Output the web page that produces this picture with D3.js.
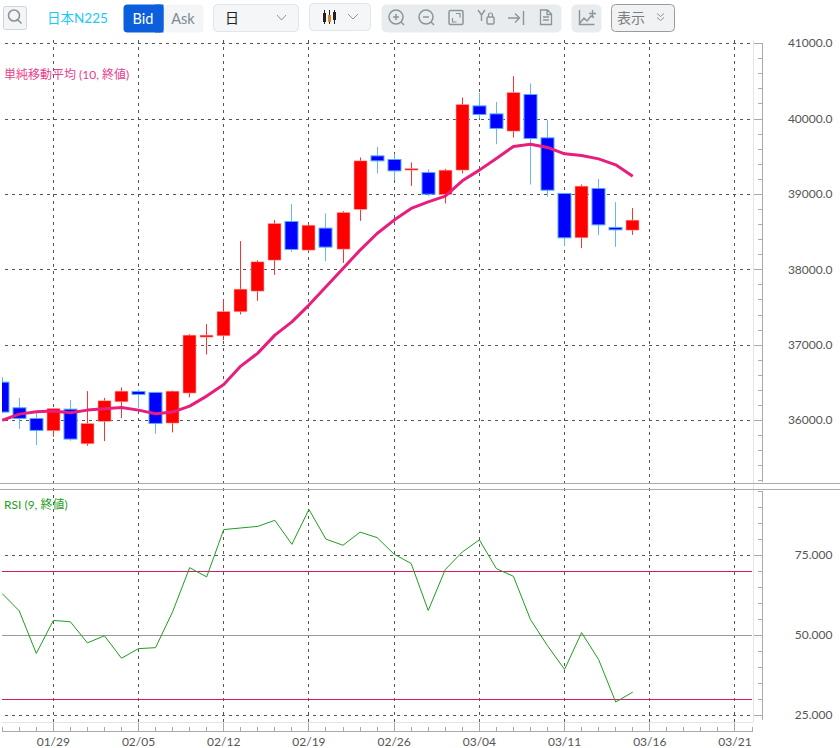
<!DOCTYPE html>
<html>
<head>
<meta charset="utf-8">
<script src="https://cdn.jsdelivr.net/npm/d3@7"></script>
<style>
  html, body { margin: 0; padding: 0; background: #fff; }
  text { font-family: Lato, "Noto Sans CJK JP", sans-serif; }
</style>
</head>
<body>
<div id="chart"></div>
<script>
// candle values, one entry per trading day
const opens  = [36510,36170,36029,35865,36152,35692,35989,36249,36387,36374,35967,36365,37107,37124,37443,37717,38128,38641,38261,38553,38274,38800,39511,39463,39322,39291,38999,39322,40174,40068,39839,40325,39750,39013,38424,39079,38562,38526];
const highs  = [36577,36302,36100,36166,36272,36391,36302,36440,36414,36378,36398,37147,37280,37598,38380,38128,38659,38871,38606,38747,38778,39490,39631,39534,39424,39335,39339,40285,40347,40227,40568,40471,39985,39017,39132,39206,38897,38818];
const lows   = [36100,35891,35675,35785,35732,35666,35728,36033,36166,35825,35844,36308,36878,37067,37408,37589,37933,38238,38248,38115,38092,38649,39278,39189,39113,38977,38880,39278,40007,39666,39755,39132,38968,38314,38287,38460,38305,38464];
const closes = [36113,36029,35870,36162,35755,35963,36263,36391,36347,35963,36391,37134,37134,37448,37744,38106,38615,38270,38592,38301,38761,39445,39445,39312,39344,39003,39322,40193,40060,39875,40352,39742,39056,38424,39110,38596,38530,38659];
const sma10  = [36003,36086,36117,36126,36103,36139,36156,36175,36139,36090,36113,36192,36325,36480,36723,36895,37134,37310,37532,37774,38018,38261,38482,38659,38814,38901,38977,39180,39322,39477,39636,39666,39623,39538,39517,39471,39392,39242];
const rsi9   = [63.1,57.7,44.4,54.7,54.3,47.7,49.9,42.9,45.9,46.2,57.4,71.2,68.3,83.1,83.6,84.1,86.0,78.5,89.4,80.1,78.2,82.3,80.6,75.4,72.5,57.8,70.6,76.1,79.9,70.9,68.5,55.0,46.8,39.4,50.9,42.5,29.2,32.3];

// axis ticks
const dateTicks  = [3,8,13,18,23,28,33,38,43];
const dateLabels = ["01/29","02/05","02/12","02/19","02/26","03/04","03/11","03/16","03/21"];
const priceTicks = [36000,37000,38000,39000,40000,41000];
const rsiTicks   = [25,50,75];
const rsiLevels  = [30,70];

const W = 840, H = 748;
const plotL = 2, plotR = 753, axisR = 762, axisB = 731;

let svg = d3.select("#chart").append("svg")
    .attr("width", W)
    .attr("height", H)
    .style("display", "block");

// x is the trading day index, weekends are skipped
let x = d3.scaleLinear().domain([0, 44]).range([2.2, 752]);
let yP = d3.scaleLinear().domain([36000, 41000]).range([420.6, 43.6]);
let yR = d3.scaleLinear().domain([25, 75]).range([715.5, 555.5]);

// snap a position to the middle of its pixel
const snap = v => Math.floor(v) + .5;

svg.append("clipPath").attr("id", "plot")
  .append("rect").attr("x", plotL).attr("y", 0).attr("width", plotR - plotL).attr("height", H);

// ---- grid
let grid = svg.append("g").attr("stroke", "#555").attr("stroke-width", 1).attr("shape-rendering", "crispEdges");
grid.selectAll(".v").data(dateTicks).enter().append("line")
    .attr("x1", d => snap(x(d))).attr("x2", d => snap(x(d)))
    .attr("y1", 40).attr("y2", 722)
    .attr("stroke-dasharray", "3,4");
grid.selectAll(".hp").data(priceTicks).enter().append("line")
    .attr("x1", 5).attr("x2", plotR)
    .attr("y1", d => snap(yP(d))).attr("y2", d => snap(yP(d)))
    .attr("stroke-dasharray", "3,4");
grid.selectAll(".hr").data([25, 75]).enter().append("line")
    .attr("x1", 5).attr("x2", plotR)
    .attr("y1", d => snap(yR(d))).attr("y2", d => snap(yR(d)))
    .attr("stroke-dasharray", "3,4");

// light edges of the plot and the panel separators
let frame = svg.append("g").attr("shape-rendering", "crispEdges");
frame.append("line").attr("x1", plotR + .5).attr("x2", plotR + .5).attr("y1", 40).attr("y2", 722).attr("stroke", "#e4e4e4");
frame.append("line").attr("x1", plotL).attr("x2", plotR).attr("y1", 722.5).attr("y2", 722.5).attr("stroke", "#e4e4e4");
[483.5, 489.5].forEach(y => frame.append("line").attr("x1", 0).attr("x2", W).attr("y1", y).attr("y2", y).attr("stroke", "#aaa"));

// ---- candles
let idx = d3.range(opens.length);
let plot = svg.append("g").attr("clip-path", "url(#plot)");
let candle = plot.selectAll(".candle").data(idx).enter().append("g");
const isUp = i => closes[i] >= opens[i];
candle.append("line")
    .attr("x1", i => snap(x(i))).attr("x2", i => snap(x(i)))
    .attr("y1", i => yP(highs[i])).attr("y2", i => yP(lows[i]))
    .attr("stroke", i => isUp(i) ? "#ff3030" : "#66b6ff")
    .attr("stroke-width", 1);
candle.append("rect")
    .attr("x", i => Math.floor(x(i)) - 6)
    .attr("width", 13)
    .attr("y", i => yP(Math.max(opens[i], closes[i])))
    .attr("height", i => Math.abs(yP(opens[i]) - yP(closes[i])))
    .attr("fill", i => isUp(i) ? "#ff0000" : "#0000ff")
    .attr("stroke", i => isUp(i) ? "#ffb0b0" : "#55aaff")
    .attr("stroke-width", i => isUp(i) ? .6 : 1);

// sma sits above the candles
let smaLine = d3.line().x((d, i) => x(i)).y(d => yP(d));
plot.append("path").attr("d", smaLine(sma10))
    .attr("fill", "none").attr("stroke", "#e81e7c").attr("stroke-width", 3).attr("stroke-linejoin", "round");

// ---- rsi panel
plot.selectAll(".lvl").data(rsiLevels).enter().append("line")
    .attr("x1", plotL).attr("x2", plotR - 1)
    .attr("y1", d => snap(yR(d))).attr("y2", d => snap(yR(d)))
    .attr("stroke", "#d81b66").attr("stroke-width", 1);
plot.append("line")
    .attr("x1", plotL).attr("x2", plotR - 1)
    .attr("y1", snap(yR(50))).attr("y2", snap(yR(50)))
    .attr("stroke", "#999").attr("stroke-width", 1);
let rsiLine = d3.line().x((d, i) => x(i)).y(d => yR(d));
plot.append("path").attr("d", rsiLine(rsi9))
    .attr("fill", "none").attr("stroke", "#1f9e1f").attr("stroke-width", 1);

// indicator labels
svg.append("text").attr("x", 4).attr("y", 79).attr("font-size", 12).attr("fill", "#e8408c").text("単純移動平均 (10, 終値)");
svg.append("text").attr("x", 4).attr("y", 509).attr("font-size", 12).attr("fill", "#1f9e1f").text("RSI (9, 終値)");

// ---- axes
function styleAxis(g) {
  g.selectAll("path, line").attr("stroke", "#aaa").attr("shape-rendering", "crispEdges");
  g.selectAll("text").attr("fill", "#555").attr("font-size", 12)
      .style("font-family", 'Lato, "Noto Sans CJK JP", sans-serif');
}

// right axis, price panel
let yPMinor = d3.range(35200, 41001, 200);
let priceAxisMinor = d3.axisRight(yP).tickValues(yPMinor).tickSizeInner(-5).tickSizeOuter(0).tickFormat("");
let priceAxisMajor = d3.axisRight(yP).tickValues(priceTicks).tickSizeInner(-9).tickSizeOuter(0).tickFormat(d3.format(".1f"));
let pa = svg.append("g").attr("transform", `translate(${axisR + .5},-0.5)`);
pa.append("g").call(priceAxisMinor).call(styleAxis).select(".domain").attr("d", `M0,${yP(41000)}V482`);
pa.append("g").call(priceAxisMajor).call(styleAxis).call(g => g.select(".domain").remove())
  .selectAll("text").attr("x", 70).attr("text-anchor", "end");

// right axis, rsi panel
let rsiMinor = d3.range(25, 96, 5);
let rsiAxisMinor = d3.axisRight(yR).tickValues(rsiMinor).tickSizeInner(-5).tickSizeOuter(0).tickFormat("");
let rsiAxisMajor = d3.axisRight(yR).tickValues(rsiTicks).tickSizeInner(-9).tickSizeOuter(0).tickFormat(d3.format(".3f"));
let ra = svg.append("g").attr("transform", `translate(${axisR + .5},-0.5)`);
ra.append("g").call(rsiAxisMinor).call(styleAxis).select(".domain").attr("d", `M0,${yR(95)}V720`);
ra.append("g").call(rsiAxisMajor).call(styleAxis).call(g => g.select(".domain").remove())
  .selectAll("text").attr("x", 70).attr("text-anchor", "end");

// bottom date axis
let dateAxisMinor = d3.axisBottom(x).tickValues(d3.range(0, 45)).tickSizeInner(-5).tickSizeOuter(0).tickFormat("");
let dateAxisMajor = d3.axisBottom(x).tickValues(dateTicks).tickSizeInner(-9).tickSizeOuter(0)
    .tickFormat(d => dateLabels[dateTicks.indexOf(d)]);
let da = svg.append("g").attr("transform", `translate(-0.5,${axisB + .5})`);
da.append("g").call(dateAxisMinor).call(styleAxis).select(".domain").attr("d", `M${plotL},0H${plotR}`);
da.append("g").call(dateAxisMajor).call(styleAxis).call(g => g.select(".domain").remove())
  .selectAll("text").attr("y", 6).attr("dy", "0.71em");

// ---- toolbar
let tb = svg.append("g");
const box = (x0, y0, w, h, fill, stroke, r) => tb.append("rect")
    .attr("x", x0 + .5).attr("y", y0 + .5).attr("width", w).attr("height", h).attr("rx", r || 4)
    .attr("fill", fill).attr("stroke", stroke || "none");
const label = (x0, y0, s, size, fill, anchor, weight) => tb.append("text")
    .attr("x", x0).attr("y", y0).attr("font-size", size).attr("fill", fill)
    .attr("text-anchor", anchor || "middle").attr("font-weight", weight || 400).text(s);
const icon = (d, w) => tb.append("path").attr("d", d).attr("fill", "none")
    .attr("stroke", "#8b9599").attr("stroke-width", w || 1.5);

// search
box(3, 6, 23, 23, "#f3f5f6", "#c9d6da", 2);
icon("M21.5 23.5L17.5 19.5M19.5 15.5a5.5 5.5 0 1 1-11 0a5.5 5.5 0 1 1 11 0", 1.6);

label(47, 23, "日本N225", 13.5, "#19c8ff", "start");

// bid ask
box(163, 4, 40, 28, "#f3f5f6");
box(123, 4, 40, 28, "#0b5fdc");
tb.append("rect").attr("x", 155).attr("y", 4.5).attr("width", 8.5).attr("height", 28).attr("fill", "#0b5fdc");
label(143, 24, "Bid", 14.5, "#fff");
label(183, 24, "Ask", 14.5, "#7d8a91");

// period select
box(213, 4, 85, 27, "#f4f6f7", "#dfe7ea");
label(232, 23, "日", 14, "#222");
icon("M277 15l4.5 5l4.5-5", 1);

// chart type select
box(309, 3, 61, 27, "#f4f6f7", "#dfe7ea");
tb.append("g").attr("stroke", "#222").attr("stroke-width", 1).selectAll("line").data([0, 1, 2]).enter().append("line")
    .attr("x1", d => 324.5 + d * 5).attr("x2", d => 324.5 + d * 5).attr("y1", 10).attr("y2", 24);
tb.append("rect").attr("x", 323).attr("y", 13).attr("width", 3).attr("height", 9).attr("fill", "#222");
tb.append("rect").attr("x", 328).attr("y", 15).attr("width", 3).attr("height", 7).attr("fill", "#d9822b");
tb.append("rect").attr("x", 333).attr("y", 12).attr("width", 3).attr("height", 8).attr("fill", "#222");
icon("M348 14l5 5l5-5", 1);

// tool group
box(381, 4, 180, 28, "#e8ecee", null, 5);
icon("M393 17h6M396 14v6M404 25l-3.2-3.2M403 17a7 7 0 1 1-14 0a7 7 0 1 1 14 0");
icon("M423 17h6M434 25l-3.2-3.2M433 17a7 7 0 1 1-14 0a7 7 0 1 1 14 0");
tb.append("rect").attr("x", 449).attr("y", 10.5).attr("width", 14).attr("height", 14).attr("rx", 1.5).attr("fill", "none").attr("stroke", "#8b9599").attr("stroke-width", 1.5);
icon("M456 13.5h4v4M452.5 18v4h4", 1.2);
icon("M478 10l3.5 5l3.5-5M481.5 15v6", 1.4);
tb.append("rect").attr("x", 487).attr("y", 17).attr("width", 7).attr("height", 7).attr("rx", 1).attr("fill", "none").attr("stroke", "#8b9599").attr("stroke-width", 1.4);
icon("M488.5 17v-2a2 2 0 0 1 4 0v2", 1.2);
icon("M508 18h11M515 13.5l4.5 4.5l-4.5 4.5M523.5 11v14", 1.4);
icon("M540.5 10h7l4 4v10.5h-11zM547 10v4.5h4.5M543 17h6M543 20h6", 1.3);

// add indicator
box(571, 4, 30, 28, "#e8ecee", null, 5);
icon("M579.5 10v14.5h15M580 23l4-5l3 3l4-5l3 1.5M592.5 10v7M589 13.5h7", 1.4);

// display
box(611, 4, 63, 27, "#f0f2f3", "#9b9b9b");
label(631, 23, "表示", 14, "#7a7f82");
icon("M657 13.5l3.5 3l3.5-3M657 17.5l3.5 3l3.5-3", 1);
</script>
</body>
</html>
